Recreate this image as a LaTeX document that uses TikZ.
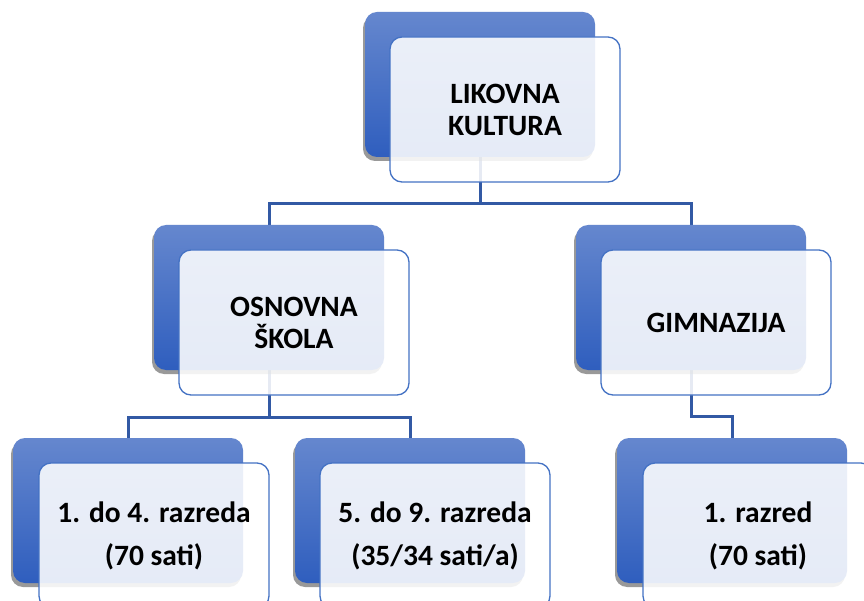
\documentclass[tikz,border=0pt]{standalone}
\usepackage{fontspec}
\setmainfont{Carlito}
\usetikzlibrary{shadows}
\definecolor{conn}{HTML}{3259A4}
\definecolor{frontline}{HTML}{4472C4}
\definecolor{gtop}{HTML}{6587CE}
\definecolor{gbot}{HTML}{2F5EBE}
\tikzset{
  backbox/.style={draw=none, rounded corners=12pt, minimum width=230pt, minimum height=145pt,
    inner sep=0pt, top color=gtop, bottom color=gbot,
    drop shadow={shadow xshift=-2pt, shadow yshift=-4pt, opacity=0.4, fill=black}},
  frontbox/.style={draw=frontline, line width=1.3pt, rounded corners=12pt, minimum width=230pt,
    minimum height=145pt, inner sep=0pt, fill=white, fill opacity=0.88, draw opacity=1,
    text opacity=1, align=center, font=\bfseries\fontsize{29.5}{32}\selectfont},
  lowbox/.style={frontbox, font=\bfseries\fontsize{29.5}{43}\selectfont},
  connector/.style={draw=conn, line width=3pt},
  anchorbox/.style={minimum width=230pt, minimum height=145pt, inner sep=0pt}
}
\begin{document}
\begin{tikzpicture}[x=1pt, y=-1pt]
  \useasboundingbox (0,0) rectangle (864,601);
  \fill[white] (0,0) rectangle (864,601);
  \clip (0,0) rectangle (864,601);
  \path
    coordinate (p1) at (480,84.5)
    coordinate (p2) at (269,297.5)
    coordinate (p3) at (691,297.5)
    coordinate (p4) at (128,510.5)
    coordinate (p5) at (410,510.5)
    coordinate (p6) at (732,510.5);
  % invisible anchors for connectors
  \node[anchorbox] (a1) at (p1) {};
  \node[anchorbox] (a2) at (p2) {};
  \node[anchorbox] (a3) at (p3) {};
  \node[anchorbox] (a4) at (p4) {};
  \node[anchorbox] (a5) at (p5) {};
  \node[anchorbox] (a6) at (p6) {};
  % connectors
  \draw[connector] (a1.south) -- ++(0,46) -| (a2.north);
  \draw[connector] (a1.south) -- ++(0,46) -| (a3.north);
  \draw[connector] (a2.south) -- ++(0,47) -| (a4.north);
  \draw[connector] (a2.south) -- ++(0,47) -| (a5.north);
  \draw[connector] (a3.south) -- ++(0,46) -| (a6.north);
  % back boxes
  \node[backbox] (b1) at (p1) {};
  \node[backbox] (b2) at (p2) {};
  \node[backbox] (b3) at (p3) {};
  \node[backbox] (b4) at (p4) {};
  \node[backbox] (b5) at (p5) {};
  \node[backbox] (b6) at (p6) {};
  % front boxes
  \node[frontbox] (f1) at (505,109.5) {LIKOVNA\\KULTURA};
  \node[frontbox] (f2) at (294,322.5) {OSNOVNA\\ŠKOLA};
  \node[frontbox] (f3) at (716,322.5) {GIMNAZIJA};
  \node[lowbox] (f4) at (154,535.5) {1. do 4. razreda\\(70 sati)};
  \node[lowbox] (f5) at (435,535.5) {5. do 9. razreda\\(35/34 sati/a)};
  \node[lowbox] (f6) at (758,535.5) {1. razred\\(70 sati)};
\end{tikzpicture}
\end{document}
